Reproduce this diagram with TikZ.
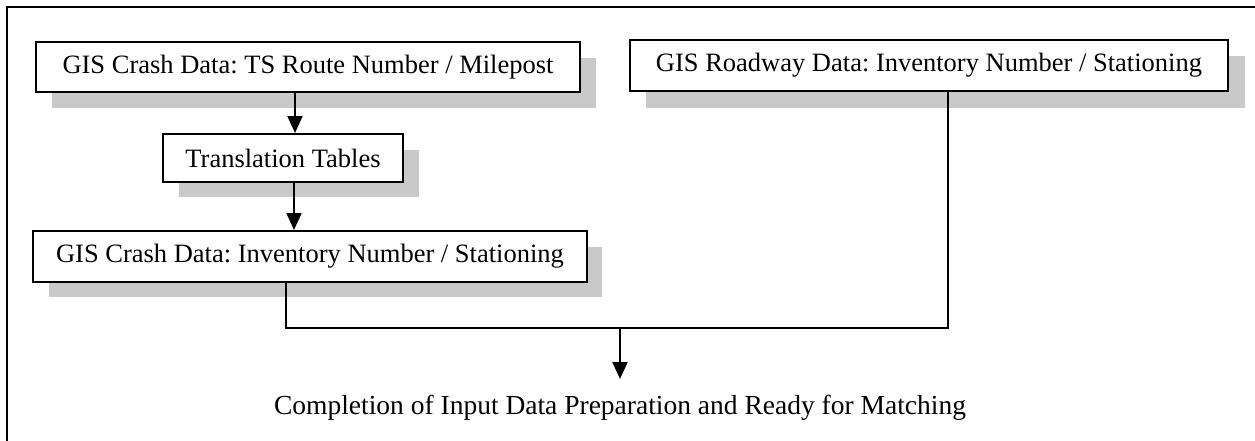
\documentclass[tikz,border=0pt]{standalone}
\usepackage{fontspec}
\setmainfont{Liberation Serif}
\usetikzlibrary{arrows.meta}
\begin{document}
\begin{tikzpicture}[x=1pt,y=-1pt,
  box/.style={draw=black,line width=2pt,fill=white,inner sep=0pt,
    font=\fontsize{26.5}{30}\selectfont\frenchspacing},
  shadowbox/.style={fill=gray!42,draw=none},
  conn/.style={line width=2pt},
  arr/.style={conn,-{Triangle[width=15pt,length=17pt]}}]
\useasboundingbox (0,0) rectangle (1255,440);
\draw[line width=2pt] (7,445) -- (7,7) -- (1260,7);
% shadows
\fill[shadowbox] (52,58) rectangle (596,108);
\fill[shadowbox] (179,150) rectangle (419,197);
\fill[shadowbox] (49,247) rectangle (602,297);
\fill[shadowbox] (646,56) rectangle (1245,108);
% boxes
\node[box,minimum width=544pt,minimum height=50pt] (b1) at (308,67) {GIS Crash Data: TS Route Number / Milepost};
\node[box,minimum width=240pt,minimum height=48pt] (b2) at (283,158) {Translation Tables};
\node[box,minimum width=554pt,minimum height=51pt] (b3) at (310,256.5) {GIS Crash Data: Inventory Number / Stationing};
\node[box,minimum width=598pt,minimum height=51pt] (b4) at (929,65.5) {GIS Roadway Data: Inventory Number / Stationing};
\node[font=\fontsize{27.5}{30}\selectfont,inner sep=0pt] (c) at (620,408) {Completion of Input Data Preparation and Ready for Matching};
\coordinate (j) at (620,328);
% connectors
\draw[arr] (b1.south -| 295,0) -- (b2.north -| 295,0);
\draw[arr] (b2.south -| 294,0) -- (b3.north -| 294,0);
\draw[conn] (b3.south -| 286,0) |- (j);
\draw[conn] (b4.south -| 948,0) |- (j);
\draw[arr] (j) -- (c.north |- 0,379);
\end{tikzpicture}
\end{document}
